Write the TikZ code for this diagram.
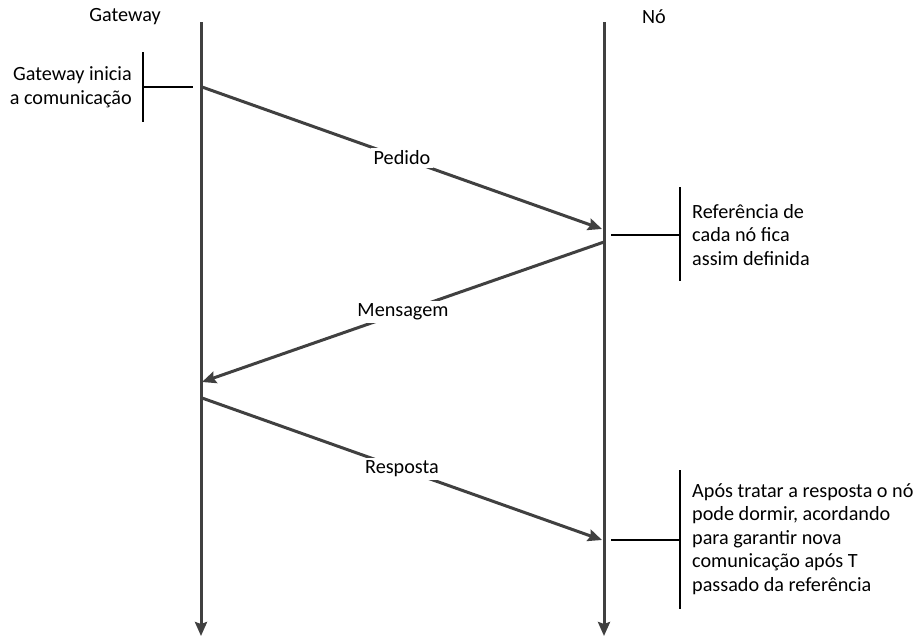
\documentclass[tikz,border=0pt]{standalone}
\usepackage{fontspec}
\setmainfont{Carlito}
\usetikzlibrary{arrows.meta}
\definecolor{lifegray}{HTML}{404040}
\begin{document}
\begin{tikzpicture}[x=1pt,y=-1pt,
  every node/.style={font=\fontsize{20.2}{23.5}\selectfont, inner sep=0pt},
  life/.style={draw=lifegray, line width=3pt, -{Stealth[length=14pt,width=12pt,inset=2pt]}},
  msg/.style={draw=lifegray, line width=3pt, -{Stealth[length=14pt,width=12pt,inset=2pt]}},
  msglabel/.style={fill=white, inner xsep=3pt, inner ysep=3pt},
  bracket/.style={draw=black, line width=1.5pt},
  note/.style={align=left, anchor=west},
]
\useasboundingbox (0,0) rectangle (917,640);
% lifelines
\coordinate (gtop) at (201,22);
\coordinate (gbot) at (201,636);
\coordinate (ntop) at (604,22);
\coordinate (nbot) at (604,636);
\node (gw) at (125,17) {Gateway};
\node (no) at (654,17) {Nó};
\draw[life] (gtop) -- (gbot);
\draw[life] (ntop) -- (nbot);
% messages
\coordinate (m1s) at (202,87);
\coordinate (m1e) at (602,229);
\coordinate (m2s) at (604,242);
\coordinate (m2e) at (202,382);
\coordinate (m3s) at (202,398);
\coordinate (m3e) at (602,540);
\draw[msg] (m1s) -- node[msglabel] (pedido) {Pedido} (m1e);
\draw[msg] (m2s) -- node[msglabel] (mensagem) {Mensagem} (m2e);
\draw[msg] (m3s) -- node[msglabel] (resposta) {Resposta} (m3e);
% left note
\coordinate (b1a) at (143,52);
\coordinate (b1b) at (143,122);
\coordinate (b1m) at (143,87);
\coordinate (b1l) at (193,87);
\draw[bracket] (b1a) -- (b1b);
\draw[bracket] (b1m) -- (b1l);
\node[align=right, anchor=east] (n1) at (132,87) {Gateway inicia\\a comunicação};
% right note 1
\coordinate (b2a) at (680,187);
\coordinate (b2b) at (680,281);
\coordinate (b2m) at (680,235);
\coordinate (b2l) at (611,235);
\draw[bracket] (b2a) -- (b2b);
\draw[bracket] (b2m) -- (b2l);
\node[note] (n2) at (692,235) {Referência de\\cada nó fica\\assim definida};
% right note 2
\coordinate (b3a) at (680,470);
\coordinate (b3b) at (680,609);
\coordinate (b3m) at (680,540);
\coordinate (b3l) at (611,540);
\draw[bracket] (b3a) -- (b3b);
\draw[bracket] (b3m) -- (b3l);
\node[note] (n3) at (692,539) {Após tratar a resposta o nó\\pode dormir, acordando\\para garantir nova\\comunicação após T\\passado da referência};
\end{tikzpicture}
\end{document}
